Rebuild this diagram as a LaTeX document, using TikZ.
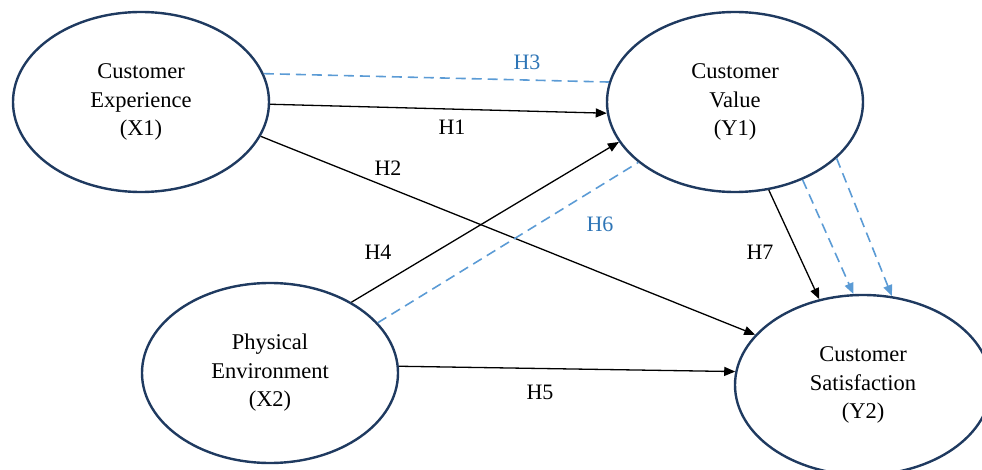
\documentclass[tikz,border=0pt]{standalone}
\usepackage{fontspec}
\setmainfont{Liberation Serif}
\usetikzlibrary{arrows.meta,shapes.geometric}
\definecolor{navy}{HTML}{1F3A60}
\definecolor{dashblue}{HTML}{5B9BD5}
\definecolor{labblue}{HTML}{2E75B6}
\begin{document}
\begin{tikzpicture}[x=1pt,y=-1pt,
  construct/.style={ellipse,draw=navy,line width=2.4pt,minimum width=256pt,minimum height=180pt,inner sep=0pt,align=center,font=\fontsize{22.5}{28.5}\selectfont},
  solidarrow/.style={draw=black,line width=1.3pt,-{Triangle[length=11pt,width=9pt]}},
  dashline/.style={draw=dashblue,line width=1.6pt,dash pattern=on 10pt off 6pt},
  dasharrow/.style={dashline,-{Triangle[length=11pt,width=9pt]}},
  lab/.style={font=\fontsize{22}{26}\selectfont,inner sep=1pt},
  blab/.style={lab,text=labblue}]
\useasboundingbox (0,0) rectangle (982,470);
\node[construct] (ce) at (141,102) {Customer\\Experience\\(X1)};
\node[construct] (cv) at (735,102) {Customer\\Value\\(Y1)};
\node[construct] (pe) at (270,373) {Physical\\Environment\\(X2)};
\node[construct] (cs) at (863,385) {Customer\\Satisfaction\\(Y2)};

\draw[dashline] (ce.13.6) -- (cv.171);
\draw[solidarrow] (ce.-1.3) -- (cv.185);
\draw[solidarrow] (ce.-16.6) -- (cs.155.8);
\draw[solidarrow] (pe.41.1) -- (cv.199.9);
\draw[dashline] (pe.25.3) -- (cv.212.9);
\draw[solidarrow] (pe.3.1) -- (cs.174.6);
\draw[solidarrow] (cv.-69) -- (cs.117.4);
\draw[dasharrow] (cv.-49.3) -- (cs.96.8);
\draw[dasharrow] (cv.-29.6) -- (cs.72.5);

\node[blab] (h3) at (527,62) {H3};
\node[lab] (h1) at (452,127) {H1};
\node[lab] (h2) at (388,168) {H2};
\node[lab] (h4) at (378,252) {H4};
\node[blab] (h6) at (600,224) {H6};
\node[lab] (h7) at (760,252) {H7};
\node[lab] (h5) at (540,392) {H5};
\end{tikzpicture}
\end{document}
